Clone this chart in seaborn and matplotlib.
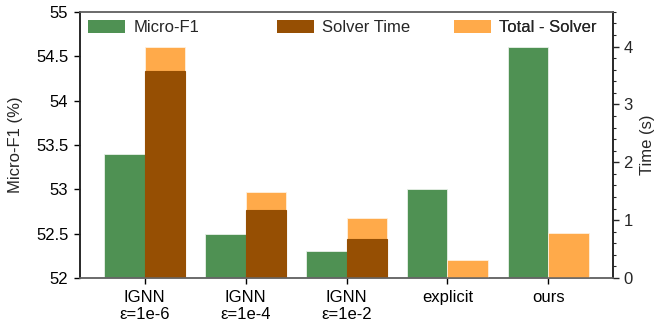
import matplotlib
matplotlib.use("Agg")
import matplotlib.pyplot as plt
import seaborn as sns
import pandas as pd
from matplotlib.patches import Patch
from matplotlib.ticker import MultipleLocator

categories = ["IGNN\nε=1e-6", "IGNN\nε=1e-4", "IGNN\nε=1e-2", "explicit", "ours"]
micro_f1 = [53.4, 52.5, 52.3, 53.0, 54.6]
solver_time = [3.58, 1.17, 0.67, 0.0, 0.0]
total_time = [4.0, 1.48, 1.03, 0.31, 0.77]

c_green = "#4f9153"
c_brown = "#964f03"
c_orange = "#ffaa4a"

FS = 12

sns.set_style("ticks")
plt.rcParams["font.family"] = ["Liberation Sans", "DejaVu Sans"]
plt.rcParams["font.size"] = FS

levels = ["f1", "time"]
df_f1 = pd.DataFrame({"cat": categories, "val": micro_f1, "kind": "f1"})
df_tot = pd.DataFrame({"cat": categories, "val": total_time, "kind": "time"})
df_sol = pd.DataFrame({"cat": categories, "val": solver_time, "kind": "time"})

fig = plt.figure(figsize=(6.57, 3.31), dpi=100)
ax = fig.add_axes([0.122, 0.16, 0.811, 0.804])
ax2 = ax.twinx()

sns.barplot(data=df_f1, x="cat", y="val", hue="kind", hue_order=levels,
            palette={"f1": c_green, "time": c_brown}, order=categories,
            ax=ax, width=0.8, dodge=True, legend=False, saturation=1,
            edgecolor="#e8f0e8", linewidth=0.6)
sns.barplot(data=df_tot, x="cat", y="val", hue="kind", hue_order=levels,
            palette={"f1": c_green, "time": c_orange}, order=categories,
            ax=ax2, width=0.8, dodge=True, legend=False, saturation=1,
            edgecolor="#fff0dd", linewidth=0.6)
sns.barplot(data=df_sol, x="cat", y="val", hue="kind", hue_order=levels,
            palette={"f1": c_green, "time": c_brown}, order=categories,
            ax=ax2, width=0.8, dodge=True, legend=False, saturation=1,
            edgecolor=c_brown, linewidth=0.8)

ax.set_ylim(52, 55)
ax2.set_ylim(0, 4.6)
ax.set_xlim(-0.64, 4.64)
ax.set_yticks([52, 52.5, 53, 53.5, 54, 54.5, 55])
ax.set_yticklabels(["52", "52.5", "53", "53.5", "54", "54.5", "55"])
ax2.set_yticks([0, 1, 2, 3, 4])
ax2.yaxis.set_minor_locator(MultipleLocator(0.2))
ax.set_xlabel("")
ax.set_ylabel("Micro-F1 (%)", fontsize=FS, labelpad=9)
ax2.set_ylabel("Time (s)", fontsize=FS, labelpad=5)

ax.tick_params(axis="both", direction="out", length=4.5, width=1, labelsize=FS, colors="black", pad=4)
ax2.tick_params(axis="y", which="major", direction="out", length=4.5, width=1, labelsize=FS, pad=3)
ax2.tick_params(axis="y", which="minor", direction="out", length=2.5, width=0.8)

for a in (ax, ax2):
    a.spines["top"].set_visible(True)
    a.spines["right"].set_visible(True)
    a.spines["top"].set_color("#666666")
    a.spines["bottom"].set_color("#666666")
    a.spines["left"].set_color("#222222")
    a.spines["right"].set_color("#222222")
    for s in a.spines.values():
        s.set_linewidth(1.1)

entries = [("Micro-F1", c_green, 0.015),
           ("Solver Time", c_brown, 0.3696),
           ("Total - Solver", c_orange, 0.7017)]
for label, col, xpos in entries:
    leg = ax2.legend(handles=[Patch(facecolor=col, edgecolor="none", label=label)],
                     loc="center left", bbox_to_anchor=(xpos, 0.94),
                     frameon=False, borderpad=0, borderaxespad=0,
                     handlelength=2.2, handleheight=0.78, handletextpad=0.5,
                     fontsize=FS)
    ax2.add_artist(leg)

fig.savefig("out.png", dpi=100)
